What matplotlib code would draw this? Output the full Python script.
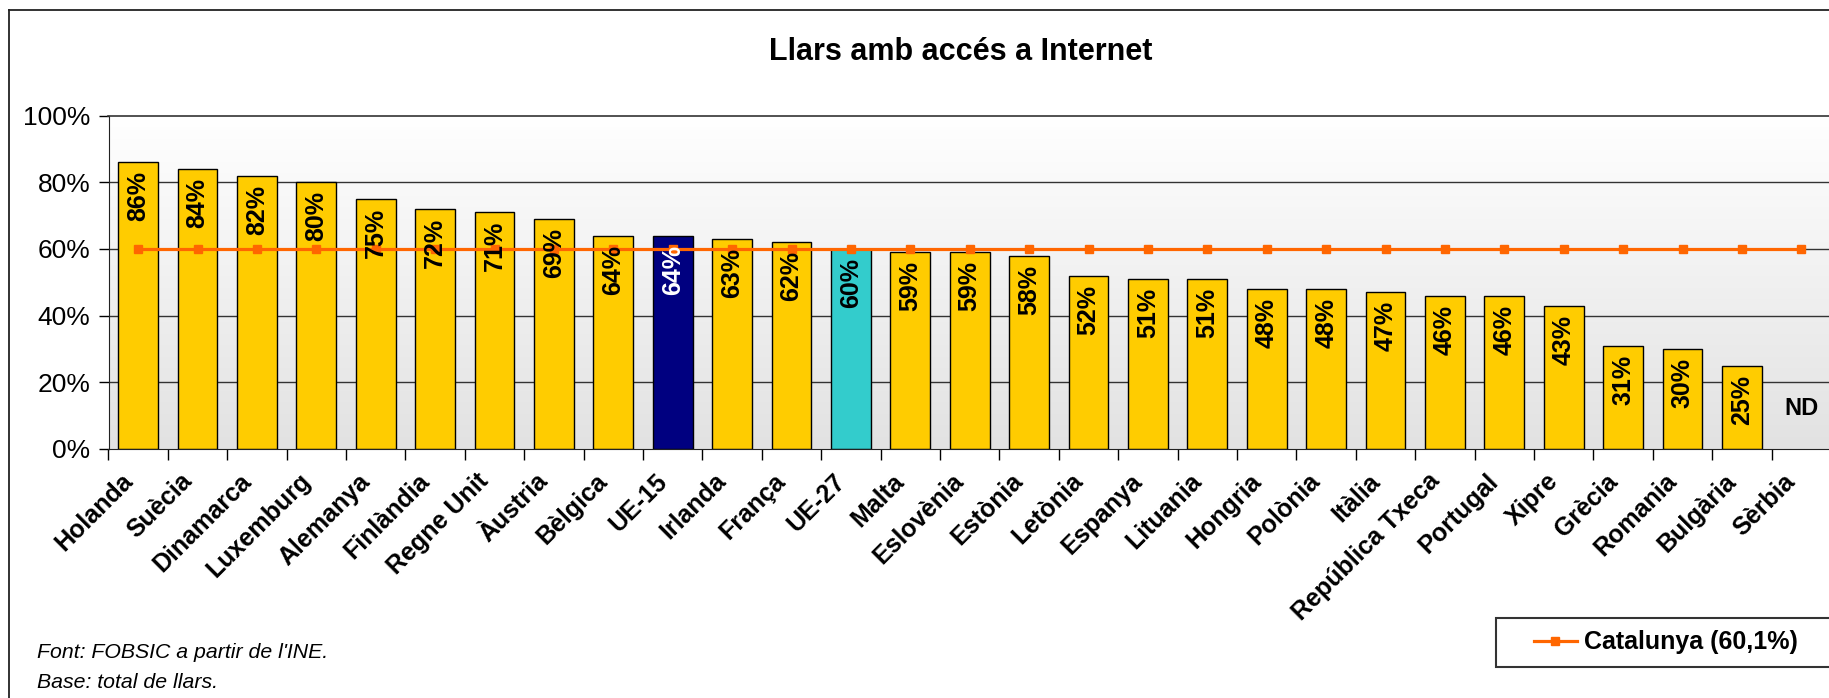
import numpy as np
import matplotlib
matplotlib.use('Agg')
import matplotlib.pyplot as plt
from matplotlib.colors import LinearSegmentedColormap
from matplotlib.patches import Rectangle
from matplotlib.lines import Line2D
import matplotlib.transforms as mtransforms

plt.rcParams['font.family'] = ['Liberation Sans', 'DejaVu Sans']

# ---------------- data ----------------
categories = ['Holanda', 'Suècia', 'Dinamarca', 'Luxemburg', 'Alemanya', 'Finlàndia',
              'Regne Unit', 'Àustria', 'Bèlgica', 'UE-15', 'Irlanda', 'França', 'UE-27',
              'Malta', 'Eslovènia', 'Estònia', 'Letònia', 'Espanya', 'Lituania', 'Hongria',
              'Polònia', 'Itàlia', 'República Txeca', 'Portugal', 'Xipre', 'Grècia',
              'Romania', 'Bulgària', 'Sèrbia']
values = [86, 84, 82, 80, 75, 72, 71, 69, 64, 64, 63, 62, 60, 59, 59, 58, 52, 51, 51,
          48, 48, 47, 46, 46, 43, 31, 30, 25, np.nan]
catalunya_value = 60.1
catalunya = [catalunya_value] * len(categories)
yticks = [0, 20, 40, 60, 80, 100]
ytick_labels = ['0%', '20%', '40%', '60%', '80%', '100%']
title = 'Llars amb accés a Internet'
legend_label = 'Catalunya (60,1%)'
source_lines = ["Font: FOBSIC a partir de l'INE.", 'Base: total de llars.']

# ---------------- figure ----------------
W, H = 1829, 698
fig = plt.figure(figsize=(W / 100, H / 100), dpi=100)
fig.patch.set_facecolor('white')

# outer chart frame (left & top edges visible)
fig.add_artist(Line2D([9 / W, 9 / W], [0, 1 - 10 / H], transform=fig.transFigure,
                      color='#222222', lw=1.3))
fig.add_artist(Line2D([9 / W, 1], [1 - 10 / H, 1 - 10 / H], transform=fig.transFigure,
                      color='#222222', lw=1.3))

ax = fig.add_axes([108.5 / W, 1 - 449 / H, (1831 - 108.5) / W, (449 - 115.5) / H])
n = len(categories)
x = np.arange(n)
ax.set_xlim(-0.5, n - 0.5)
ax.set_ylim(0, 100)

# gradient background
cmap = LinearSegmentedColormap.from_list('bg', ['#FFFFFF', '#E2E2E2'])
grad = np.linspace(0, 1, 256).reshape(-1, 1)
ax.imshow(grad, extent=[-0.5, n - 0.5, 0, 100], aspect='auto', cmap=cmap,
          origin='upper', zorder=0, interpolation='bilinear')

for yv in yticks[1:-1]:
    ax.axhline(yv, color='#333333', lw=1.0, zorder=1)

colors = []
label_colors = []
for c in categories:
    if c == 'UE-15':
        colors.append('#000080'); label_colors.append('white')
    elif c == 'UE-27':
        colors.append('#33CCCC'); label_colors.append('black')
    else:
        colors.append('#FFCC00'); label_colors.append('black')

ax.bar(x, values, width=0.67, color=colors, edgecolor='black', linewidth=1.0, zorder=2)

line, = ax.plot(x, catalunya, color='#FF6600', lw=2.3, marker='s', ms=5.5,
                mec='#FF6600', zorder=3, label=legend_label)

for i, v in enumerate(values):
    if np.isnan(v):
        ax.text(i, 12, 'ND', ha='center', va='center', fontsize=17,
                fontweight='bold', color='black', zorder=4)
    else:
        ax.annotate(f'{v:.0f}%', (i, v), xytext=(0, -9), textcoords='offset pixels',
                    rotation=90, ha='center', va='top', fontsize=18,
                    fontweight='bold', color=label_colors[i], zorder=4)

# axes styling
ax.spines['right'].set_visible(False)
ax.spines['top'].set_color('#333333')
ax.spines['top'].set_linewidth(1.2)
ax.spines['left'].set_color('#222222')
ax.spines['bottom'].set_color('#222222')

ax.set_yticks(yticks)
ax.set_yticklabels(ytick_labels, fontsize=19)
ax.tick_params(axis='y', length=7, width=1, direction='out', pad=6)

ax.set_xticks(x)
ax.set_xticks(np.arange(-0.5, n, 1.0), minor=True)
ax.tick_params(axis='x', which='major', length=0, pad=14.5)
ax.tick_params(axis='x', which='minor', length=8, width=1, direction='out')
ax.set_xticklabels(categories, fontsize=18, fontweight='bold',
                   rotation=45, ha='right', va='top', rotation_mode='anchor')
offset = mtransforms.ScaledTranslation(-18 / 100, 0, fig.dpi_scale_trans)
for lab in ax.get_xticklabels():
    lab.set_transform(lab.get_transform() + offset)

# title
fig.text(961 / W, 1 - 52 / H, title, ha='center', va='center', fontsize=22,
         fontweight='bold')

# source notes
fig.text(37 / W, 1 - 652 / H, source_lines[0], ha='left', va='center', fontsize=15.3,
         fontstyle='italic')
fig.text(37 / W, 1 - 682 / H, source_lines[1], ha='left', va='center', fontsize=15.3,
         fontstyle='italic')

# legend box
fig.add_artist(Rectangle((1496 / W, 1 - 667 / H), (1850 - 1496) / W, 49 / H,
                         transform=fig.transFigure, facecolor='white',
                         edgecolor='#333333', lw=1.5, zorder=5))
leg = fig.legend(handles=[line], labels=[legend_label], loc='center left',
                 bbox_to_anchor=(1534 / W, 1 - 642.5 / H), frameon=False,
                 prop={'size': 18, 'weight': 'bold'}, handlelength=1.7,
                 handletextpad=0.3, borderpad=0, borderaxespad=0, numpoints=1)
leg.set_zorder(6)

fig.savefig('out.png', dpi=100)
